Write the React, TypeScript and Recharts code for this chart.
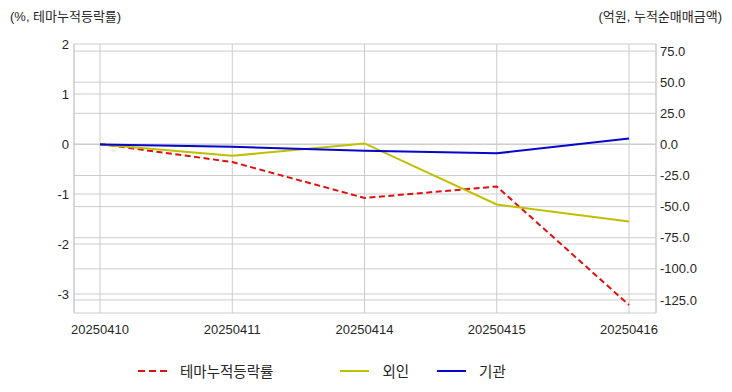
import { CartesianGrid, Line, LineChart, XAxis, YAxis } from 'recharts';

const dates = ['20250410', '20250411', '20250414', '20250415', '20250416'];
const themeReturn = [0, -0.36, -1.08, -0.85, -3.22]; // %, 테마누적등락률
const foreignNet = [0, -9.2, 0.8, -48.3, -62]; // 억원, 외인
const instNet = [0, -1.9, -5.1, -7.2, 4.8]; // 억원, 기관

const leftTicks = [-3, -2, -1, 0, 1, 2];
const rightTicks = [-125, -100, -75, -50, -25, 0, 25, 50, 75];

const SERIES = [
  { key: 'theme', name: '테마누적등락률', color: '#e01010', dash: '6 3.5', axis: 'left', gap: 67 },
  { key: 'foreign', name: '외인', color: '#bfbf00', dash: undefined, axis: 'right', gap: 28 },
  { key: 'inst', name: '기관', color: '#0505cc', dash: undefined, axis: 'right', gap: 0 },
];

const data = dates.map((d, i) => ({
  date: d,
  theme: themeReturn[i],
  foreign: foreignNet[i],
  inst: instNet[i],
}));

const FONT = '"Liberation Sans", "Noto Sans CJK KR", sans-serif';
const GRID = '#cccccc';
const TXT = '#262626';

export default function App() {
  return (
    <div style={{ position: 'absolute', left: 0, top: 0, width: 732, height: 392, fontFamily: FONT, background: '#fff' }}>
      <div style={{ position: 'absolute', left: 10, top: 6, fontSize: 13, color: TXT }}>(%, 테마누적등락률)</div>
      <div style={{ position: 'absolute', right: 10, top: 6, fontSize: 13, color: TXT }}>(억원, 누적순매매금액)</div>
      <LineChart width={732} height={392} data={data} margin={{ top: 44, right: 0, bottom: 49, left: 0 }}>
        <CartesianGrid yAxisId="left" stroke={GRID} strokeWidth={1} horizontalValues={leftTicks} />
        <CartesianGrid yAxisId="right" stroke={GRID} strokeWidth={1} vertical={false} horizontalValues={rightTicks} />
        <XAxis
          dataKey="date"
          height={30}
          padding={{ left: 26, right: 27 }}
          tickLine={false}
          tickSize={0}
          tickMargin={12}
          stroke={GRID}
          tick={{ fill: TXT, fontSize: 13, fontFamily: FONT }}
          interval={0}
        />
        <YAxis
          yAxisId="left"
          orientation="left"
          width={74}
          domain={[-3.38, 2]}
          ticks={leftTicks}
          tickLine={false}
          tickSize={0}
          tickMargin={5}
          stroke={GRID}
          tick={{ fill: TXT, fontSize: 13, fontFamily: FONT }}
          allowDataOverflow
        />
        <YAxis
          yAxisId="right"
          orientation="right"
          width={76}
          domain={[-135.5, 80.7]}
          ticks={rightTicks}
          tickLine={false}
          tickSize={0}
          tickMargin={4}
          stroke={GRID}
          tick={{ fill: TXT, fontSize: 13, fontFamily: FONT, textAnchor: 'start' }}
          tickFormatter={(v: number) => v.toFixed(1)}
          allowDataOverflow
        />
        {SERIES.map((s) => (
          <Line
            key={s.key}
            yAxisId={s.axis}
            dataKey={s.key}
            name={s.name}
            stroke={s.color}
            strokeWidth={2}
            strokeDasharray={s.dash}
            dot={false}
            activeDot={false}
            type="linear"
            isAnimationActive={false}
          />
        ))}
      </LineChart>
      {/* 범례 */}
      <div style={{ position: 'absolute', left: 138, top: 360, display: 'flex', alignItems: 'center', fontSize: 14.5, color: TXT }}>
        {SERIES.map((s) => (
          <div key={s.key} style={{ display: 'flex', alignItems: 'center', marginRight: s.gap }}>
            <svg width={29} height={20} style={{ marginRight: 13 }}>
              <line x1={0} y1={10} x2={29} y2={10} stroke={s.color} strokeWidth={2} strokeDasharray={s.dash ? '7 4' : undefined} />
            </svg>
            <span>{s.name}</span>
          </div>
        ))}
      </div>
    </div>
  );
}
